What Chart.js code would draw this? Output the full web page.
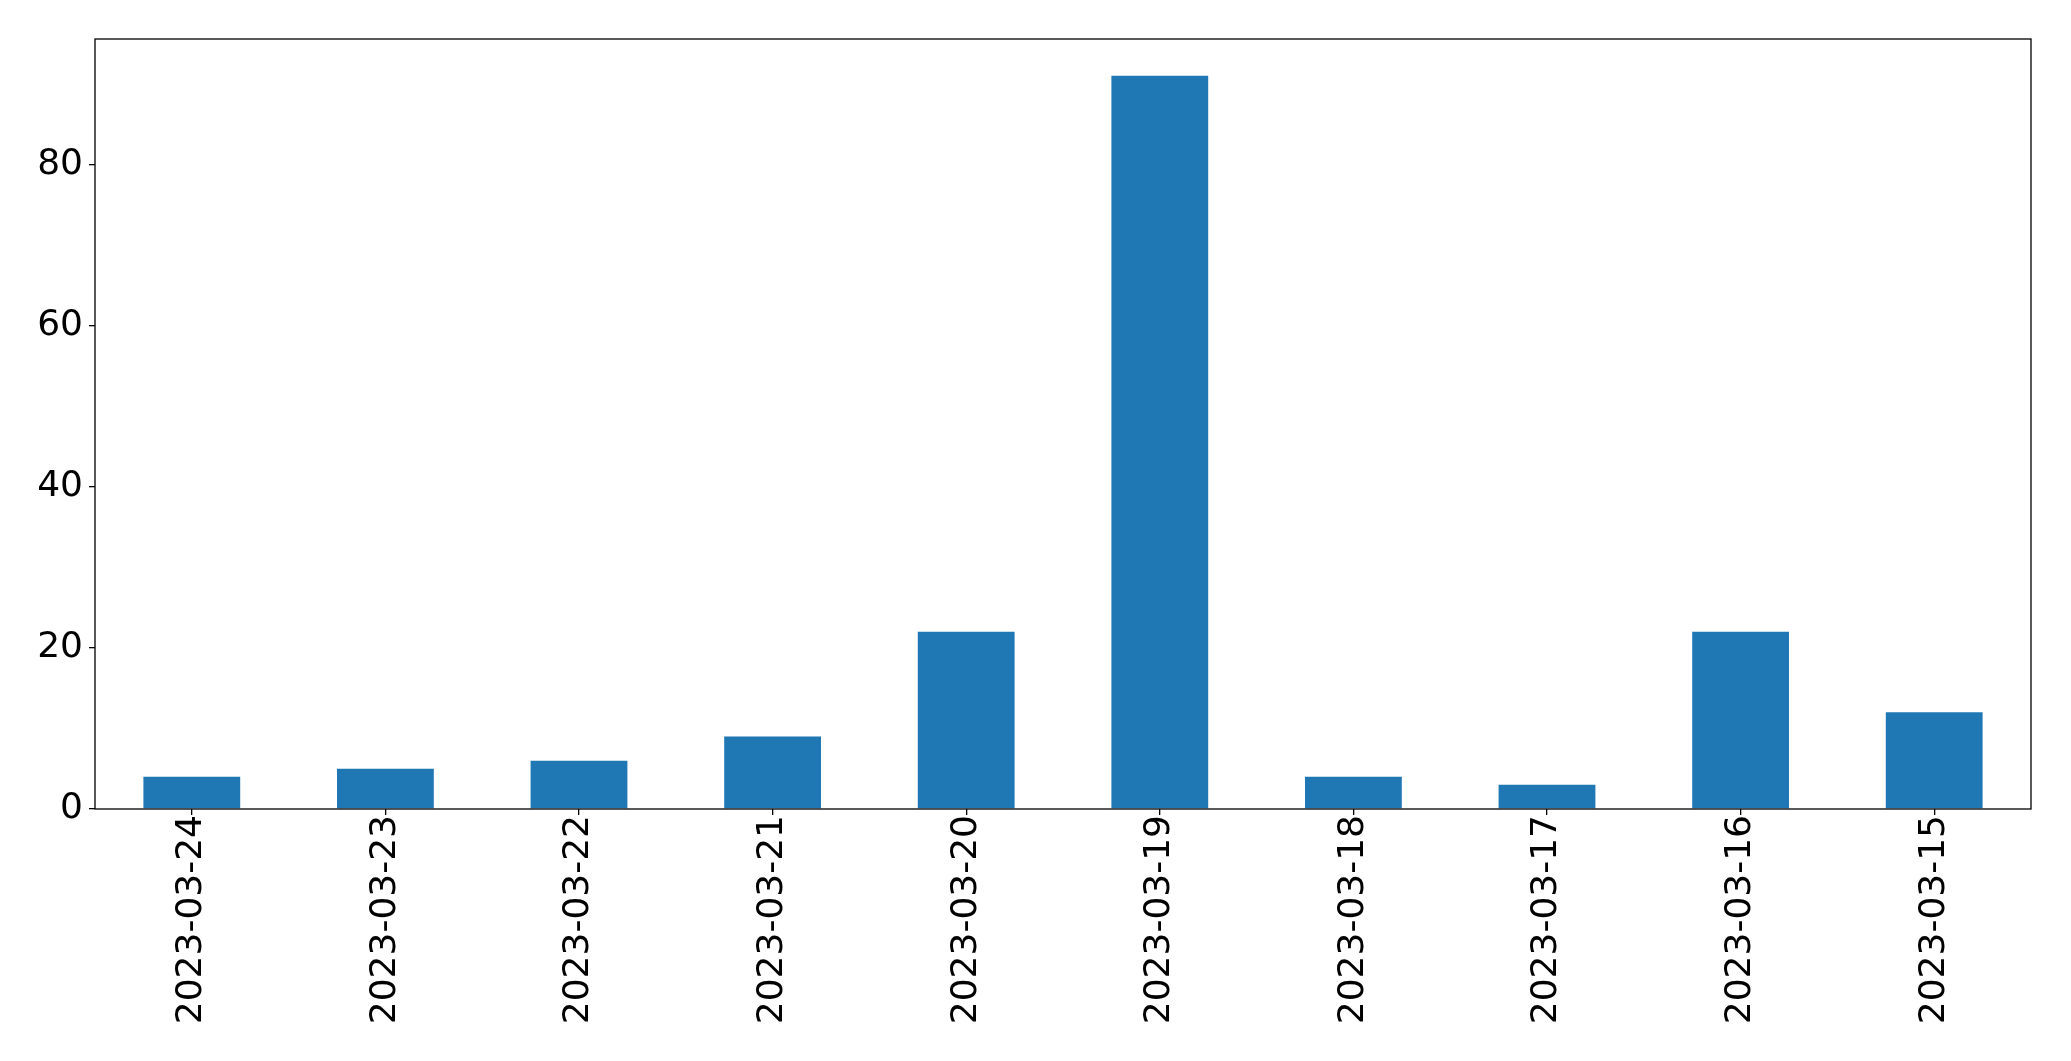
<!DOCTYPE html>
<html>
<head>
<meta charset="utf-8">
<script src="https://cdn.jsdelivr.net/npm/chart.js@4.4.1/dist/chart.umd.min.js"></script>
<style>
    html, body { margin: 0; padding: 0; background: #fff; }
    #wrap { width: 2071px; height: 1061px; }
</style>
</head>
<body>
<div id="wrap"><canvas id="chart" width="2071" height="1061"></canvas></div>
<script>
// dates as they appear on the x axis (newest first)
const dates = ['2023-03-24', '2023-03-23', '2023-03-22', '2023-03-21', '2023-03-20',
               '2023-03-19', '2023-03-18', '2023-03-17', '2023-03-16', '2023-03-15'];
const counts = [4, 5, 6, 9, 22, 91, 4, 3, 22, 12];
const yTicks = [0, 20, 40, 60, 80];

const yMax = Math.max(...counts) * 1.05;

// box around the plot area (top and right spines too)
const frame = {
    id: 'frame',
    afterDraw(chart) {
        const { ctx, chartArea: a } = chart;
        ctx.save();
        ctx.strokeStyle = '#000';
        ctx.lineWidth = 1.3;
        ctx.strokeRect(a.left, a.top, a.right - a.left, a.bottom - a.top);
        ctx.restore();
    }
};

const font = { family: "'DejaVu Sans', sans-serif", size: 36 };

new Chart(document.getElementById('chart'), {
    type: 'bar',
    data: {
        labels: dates,
        datasets: [{
            data: counts,
            backgroundColor: '#1f77b4',
            borderWidth: 0,
            categoryPercentage: 1,
            barPercentage: 0.5
        }]
    },
    options: {
        responsive: false,
        animation: false,
        layout: { padding: { top: 39, right: 40, bottom: 0, left: 0 } },
        plugins: {
            legend: { display: false },
            tooltip: { enabled: false }
        },
        scales: {
            x: {
                grid: { display: true, offset: false, drawOnChartArea: false, drawTicks: true, tickLength: 6, color: '#000', lineWidth: 1.3 },
                border: { display: false },
                ticks: {
                    color: '#000',
                    font,
                    minRotation: 90,
                    maxRotation: 90,
                    autoSkip: false,
                    padding: 0
                },
                afterFit(scale) { scale.height = 252; }
            },
            y: {
                min: 0,
                max: yMax,
                grid: { display: true, drawOnChartArea: false, drawTicks: true, tickLength: 6, color: '#000', lineWidth: 1.3 },
                border: { display: false },
                afterBuildTicks(scale) {
                    scale.ticks = yTicks.map(v => ({ value: v }));
                },
                ticks: {
                    color: '#000',
                    font,
                    padding: 6
                },
                afterFit(scale) { scale.width = 95; }
            }
        }
    },
    plugins: [frame]
});
</script>
</body>
</html>
